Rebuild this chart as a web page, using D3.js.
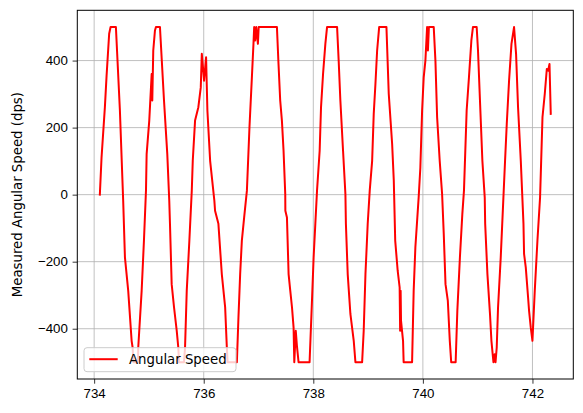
<!DOCTYPE html>
<html>
<head>
<meta charset="utf-8">
<script src="https://d3js.org/d3.v7.min.js"></script>
<style>
    body { margin: 0; background: #fff; }
    svg { display: block; font-family: "DejaVu Sans", sans-serif; }
    .grid line { stroke: #b0b0b0; stroke-width: 0.8; }
    .axis path { display: none; }
    .axis line { stroke: #000; stroke-width: 0.8; }
    .axis text { font-size: 13.3px; fill: #000; }
</style>
</head>
<body>
<div id="chart"></div>
<script>
var TIMES = [
    734.104, 734.135, 734.196, 734.227, 734.274, 734.300, 734.397, 734.470, 734.530, 734.562,
    734.622, 734.684, 734.702, 734.717, 734.799, 734.805, 734.867, 734.909, 734.946,
    734.958, 735.006, 735.050, 735.061, 735.079, 735.110, 735.128, 735.201, 735.275, 735.335,
    735.371, 735.384, 735.415, 735.458, 735.507, 735.536, 735.549, 735.640, 735.659, 735.690,
    735.738, 735.782,
    735.800, 735.842, 735.902, 735.946, 735.965, 735.994, 736.006, 736.043, 736.067, 736.117,
    736.194, 736.207, 736.268, 736.330, 736.391, 736.422, 736.436, 736.605, 736.634, 736.665,
    736.696, 736.738, 736.788,
    736.835, 736.879, 736.908, 736.921, 736.939, 736.958, 736.989, 737.003, 737.336, 737.365,
    737.396, 737.427, 737.457, 737.488, 737.490, 737.519, 737.549, 737.580, 737.611, 737.640,
    737.653, 737.680, 737.701, 737.731, 737.932, 737.976, 738.006, 738.037, 738.068,
    738.116, 738.141, 738.178, 738.220, 738.251, 738.434, 738.463, 738.494, 738.543, 738.586,
    738.595, 738.628, 738.677, 738.738, 738.769, 738.891, 738.920, 738.952, 738.993, 739.030,
    739.074, 739.103, 739.134, 739.165, 739.202, 739.335, 739.377, 739.439, 739.469, 739.495,
    739.540, 739.576, 739.585, 739.594, 739.601, 739.638, 739.649, 739.803, 739.832, 739.863,
    739.923,
    739.954, 739.986, 740.015, 740.046, 740.077, 740.092, 740.110, 740.198, 740.229, 740.260,
    740.307, 740.351, 740.381, 740.413, 740.455, 740.491, 740.517, 740.598, 740.629, 740.676,
    740.720, 740.750,
    740.799, 740.841, 740.885, 740.914, 740.982, 741.006, 741.042, 741.086, 741.129, 741.137,
    741.178, 741.225, 741.251, 741.288, 741.311, 741.326, 741.348, 741.372, 741.421, 741.470,
    741.500, 741.531, 741.573, 741.617, 741.664, 741.701, 741.737, 741.787, 741.836, 741.847,
    741.878, 741.920, 741.938, 741.969, 742.000, 742.042, 742.091, 742.139,
    742.152, 742.183, 742.225, 742.262, 742.286, 742.311, 742.334
];

var SPEEDS = [
    0, 111, 261, 355, 480, 500, 500, 251, -18, -187,
    -287, -436, -456, -500, -500, -456, -287, -137, 12,
    121, 221, 360, 281, 430, 490, 500, 500, 281, 121,
    -18, -87, -267, -336, -406, -456, -500, -500, -456, -287,
    -137, 12,
    101, 221, 261, 320, 420, 365, 340, 410, 251, 101,
    -18, -48, -87, -237, -336, -456, -500, -500, -366, -237,
    -137, -68, 12,
    201, 350, 450, 500, 460, 500, 450, 500, 500, 390,
    281, 221, 131, 2, -48, -68, -237, -287, -336, -396,
    -500, -406, -451, -500, -500, -316, -187, -87, 12,
    131, 261, 360, 450, 500, 500, 400, 281, 131, 2,
    -87, -237, -356, -436, -500, -500, -406, -237, -87, 12,
    101, 241, 330, 430, 500, 500, 301, 151, 42, -137,
    -227, -277, -406, -287, -376, -436, -500, -500, -287, -157,
    -8,
    81, 251, 350, 400, 500, 430, 500, 500, 400, 231,
    101, 2, -117, -267, -316, -436, -500, -500, -346, -187,
    -58, 12,
    251, 350, 460, 500, 500, 430, 281, 101, -8, -87,
    -237, -356, -436, -500, -476, -500, -456, -336, -187, -8,
    101, 211, 340, 450, 500, 420, 261, 101, -87, -177,
    -217, -306, -346, -396, -436, -287, -137, -8,
    62, 231, 301, 375, 370, 390, 241
];

var X_TICKS = [734, 736, 738, 740, 742];
var Y_TICKS = [-400, -200, 0, 200, 400];
var SERIES_NAME = "Angular Speed";
var Y_LABEL = "Measured Angular Speed (dps)";

function init() {
    var data = TIMES.map(function (t, i) {
        return {t: t, v: SPEEDS[i]};
    });

    var svg = d3.select("#chart").append("svg").attr("width", 583).attr("height", 413);
    var margin = {top: 10.3, right: 9.7, bottom: 34, left: 77.3};
    var width = svg.attr("width") - margin.left - margin.right;
    var height = svg.attr("height") - margin.top - margin.bottom;
    var g = svg.append("g").attr("transform", "translate(" + margin.left + "," + margin.top + ")");

    /* matplotlib style 5% margins */
    var tExt = d3.extent(data, function (d) { return d.t; });
    var vExt = d3.extent(data, function (d) { return d.v; });
    var tPad = (tExt[1] - tExt[0]) * 0.05;
    var vPad = (vExt[1] - vExt[0]) * 0.05;

    var x = d3.scaleLinear().domain([tExt[0] - tPad, tExt[1] + tPad]).range([0, width]);
    var y = d3.scaleLinear().domain([vExt[0] - vPad, vExt[1] + vPad]).range([height, 0]);

    /* grid */
    var grid = g.append("g").classed("grid", true);
    grid.selectAll(".gx").data(X_TICKS).enter().append("line")
        .attr("x1", function (d) { return x(d); })
        .attr("x2", function (d) { return x(d); })
        .attr("y1", 0).attr("y2", height);
    grid.selectAll(".gy").data(Y_TICKS).enter().append("line")
        .attr("y1", function (d) { return y(d); })
        .attr("y2", function (d) { return y(d); })
        .attr("x1", 0).attr("x2", width);

    /* line */
    var line = d3.line()
        .x(function (d) { return x(d.t); })
        .y(function (d) { return y(d.v); });

    g.append("path")
        .datum(data)
        .attr("d", line)
        .attr("fill", "none")
        .attr("stroke", "#ff0000")
        .attr("stroke-width", 2)
        .attr("stroke-linejoin", "round")
        .attr("stroke-linecap", "square");

    /* axes */
    g.append("g")
        .attr("class", "axis axis--x")
        .attr("transform", "translate(0," + height + ")")
        .call(d3.axisBottom(x).tickValues(X_TICKS).tickSize(4.7).tickPadding(4.7).tickFormat(d3.format("d")));

    g.append("g")
        .attr("class", "axis axis--y")
        .call(d3.axisLeft(y).tickValues(Y_TICKS).tickSize(4.7).tickPadding(4.7)
            .tickFormat(function (d) { return d < 0 ? "\u2212" + Math.abs(d) : d; }));

    g.append("rect")
        .attr("width", width).attr("height", height)
        .attr("fill", "none").attr("stroke", "#000").attr("stroke-width", 1);

    svg.append("text")
        .attr("transform", "translate(22," + (margin.top + height / 2) + ") rotate(-90)")
        .attr("text-anchor", "middle")
        .attr("font-size", "13.3px")
        .text(Y_LABEL);

    /* legend */
    var legend = g.append("g").attr("transform", "translate(6.7," + (height - 31.3) + ")");
    legend.append("rect")
        .attr("width", 152).attr("height", 24)
        .attr("rx", 3).attr("ry", 3)
        .attr("fill", "#fff").attr("fill-opacity", 0.8)
        .attr("stroke", "#cccccc").attr("stroke-width", 1);
    legend.append("line")
        .attr("x1", 5.3).attr("x2", 33.7).attr("y1", 11.5).attr("y2", 11.5)
        .attr("stroke", "#ff0000").attr("stroke-width", 2);
    legend.append("text")
        .attr("x", 45).attr("y", 16.3)
        .attr("font-size", "13.3px")
        .text(SERIES_NAME);
}

init();
</script>
</body>
</html>
